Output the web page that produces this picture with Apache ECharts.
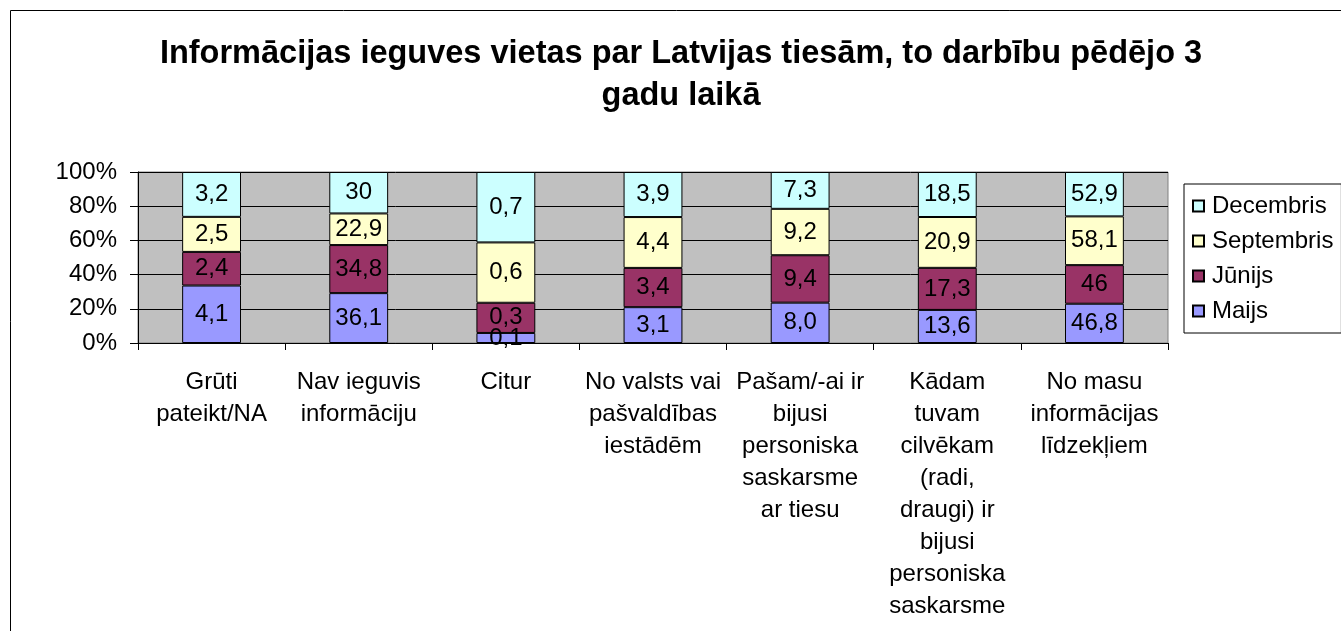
<!DOCTYPE html>
<html>
<head>
<meta charset="utf-8">
<title>Informācijas ieguves vietas</title>
<script src="https://cdn.jsdelivr.net/npm/echarts@6/dist/echarts.min.js"></script>
<style>
    html, body { margin: 0; padding: 0; background: #fff; }
    #chart { width: 1341px; height: 631px; }
</style>
</head>
<body>
<div id="chart"></div>
<script>
// kategorijas (rindiņu pārnesumi kā attēlā)
const categories = [
    'Grūti\npateikt/NA',
    'Nav ieguvis\ninformāciju',
    'Citur',
    'No valsts vai\npašvaldības\niestādēm',
    'Pašam/-ai ir\nbijusi\npersoniska\nsaskarsme\nar tiesu',
    'Kādam\ntuvam\ncilvēkam\n(radi,\ndraugi) ir\nbijusi\npersoniska\nsaskarsme',
    'No masu\ninformācijas\nlīdzekļiem'
];

// vērtības tā, kā tās rakstītas uz stabiņiem
const maijs      = ['4,1', '36,1', '0,1', '3,1', '8,0', '13,6', '46,8'];
const junijs     = ['2,4', '34,8', '0,3', '3,4', '9,4', '17,3', '46'];
const septembris = ['2,5', '22,9', '0,6', '4,4', '9,2', '20,9', '58,1'];
const decembris  = ['3,2', '30', '0,7', '3,9', '7,3', '18,5', '52,9'];

const yTicks = [0, 20, 40, 60, 80, 100];

const FONT = "'Liberation Sans', Arial, sans-serif";
const toNum = s => parseFloat(s.replace(',', '.'));

// 100% sakrautais stabiņš: katras kategorijas summa
const totals = categories.map((_, i) =>
    [maijs, junijs, septembris, decembris].reduce((acc, arr) => acc + toNum(arr[i]), 0));

const makeSeries = (name, arr, color) => ({
    name: name,
    type: 'bar',
    stack: 'total',
    barWidth: '40%',
    data: arr.map((s, i) => ({ value: toNum(s) / totals[i] * 100, label: { formatter: s } })),
    itemStyle: { color: color, borderColor: '#000', borderWidth: 1 },
    label: {
        show: true,
        position: 'inside',
        color: '#000',
        fontFamily: FONT,
        fontSize: 24
    },
    emphasis: { disabled: true }
});

const chart = echarts.init(document.getElementById('chart'), null, { renderer: 'canvas' });

chart.setOption({
    animation: false,
    textStyle: { fontFamily: FONT },
    graphic: [{
        type: 'rect',
        shape: { x: 10.5, y: 10.5, width: 1400, height: 700 },
        style: { fill: 'none', stroke: '#000', lineWidth: 1 },
        silent: true,
        z: -10
    }],
    title: {
        text: 'Informācijas ieguves vietas par Latvijas tiesām, to darbību pēdējo 3\ngadu laikā',
        left: 676,
        top: 28,
        textAlign: 'center',
        textStyle: {
            fontFamily: FONT,
            fontSize: 32.5,
            fontWeight: 'bold',
            color: '#000',
            lineHeight: 42
        }
    },
    legend: {
        orient: 'vertical',
        left: 1184,
        top: 184,
        data: ['Decembris', 'Septembris', 'Jūnijs', 'Maijs'],
        icon: 'rect',
        itemWidth: 11,
        itemHeight: 11,
        itemGap: 11,
        padding: [10, 8, 10, 8],
        borderColor: '#000',
        borderWidth: 1,
        backgroundColor: '#fff',
        textStyle: { fontFamily: FONT, fontSize: 24, color: '#000', padding: [0, 0, 0, 3] }
    },
    grid: {
        left: 138,
        right: 173,
        top: 172,
        bottom: 288,
        show: true,
        backgroundColor: '#C0C0C0',
        borderColor: '#808080',
        borderWidth: 1
    },
    xAxis: {
        type: 'category',
        data: categories,
        axisLine: { lineStyle: { color: '#000', width: 1 } },
        axisTick: { show: true, interval: 0, length: 7, lineStyle: { color: '#000' } },
        axisLabel: {
            interval: 0,
            margin: 23,
            color: '#000',
            fontFamily: FONT,
            fontSize: 24,
            lineHeight: 32
        }
    },
    yAxis: {
        type: 'value',
        min: yTicks[0],
        max: yTicks[yTicks.length - 1],
        interval: yTicks[1] - yTicks[0],
        axisLine: { show: true, lineStyle: { color: '#000', width: 1 } },
        axisTick: { show: true, length: 8, lineStyle: { color: '#000' } },
        splitLine: { lineStyle: { color: '#000', width: 1 } },
        axisLabel: {
            formatter: '{value}%',
            margin: 21,
            color: '#000',
            fontFamily: FONT,
            fontSize: 24
        }
    },
    series: [
        makeSeries('Maijs', maijs, '#9999FF'),
        makeSeries('Jūnijs', junijs, '#993366'),
        makeSeries('Septembris', septembris, '#FFFFCC'),
        makeSeries('Decembris', decembris, '#CCFFFF')
    ]
});
</script>
</body>
</html>
